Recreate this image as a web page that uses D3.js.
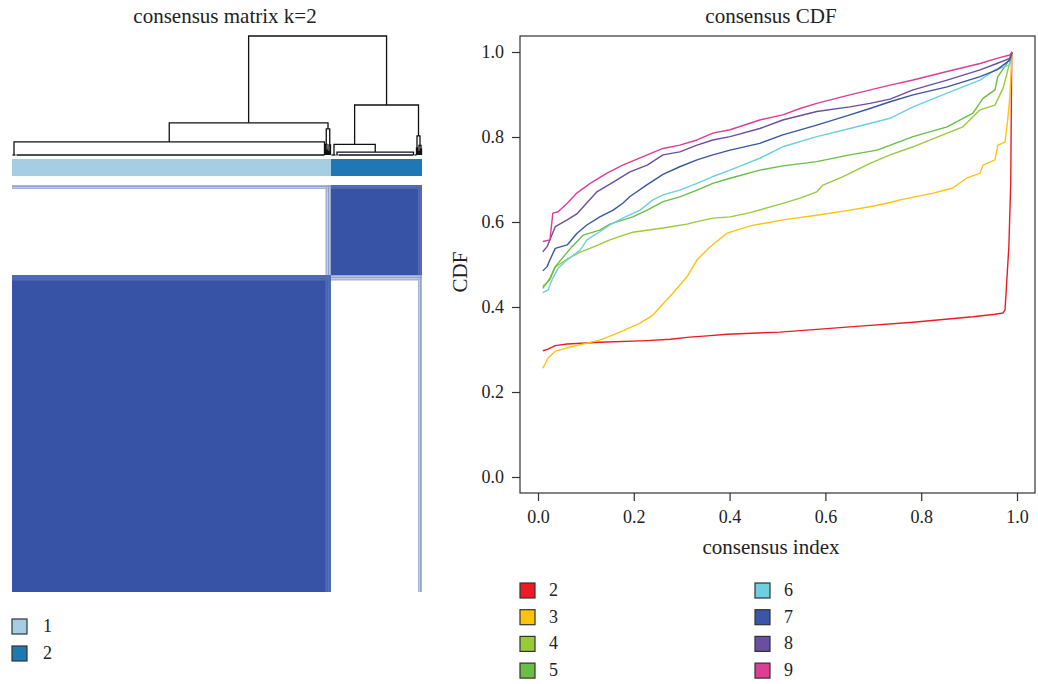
<!DOCTYPE html>
<html>
<head>
<meta charset="utf-8">
<title>consensus matrix / CDF</title>
<script src="https://cdn.jsdelivr.net/npm/d3@7"></script>
<style>
  body { margin: 0; background: #fff; }
  text { font-family: "Liberation Serif", "Times New Roman", serif; fill: #222; }
</style>
</head>
<body>
<script>
// ---- data ----
var nSamples = 410;
var clusterNames = ["1", "2"];
var clusterSizes = [319, 91];
var clusterColors = ["#a6cee3", "#1f78b4"];

// unstable samples at the end of each cluster: co-clustering with the other cluster
var edge1Start = 313, edge1Cross = [0.25, 0.45, 0.30, 0.55, 0.35, 0.50];
var edge2Start = 406, edge2Cross = [0.45, 0.30, 0.55, 0.40];

// dendrogram: leaf groups [first, last, anchor] in sample order, merges [left, right, height]
var leaves = [[0, 3, 1.5], [4, 312, 312], [313, 313, 313], [314, 314, 314], [315, 315, 315],
              [316, 316, 316], [317, 317, 317], [318, 318, 318],
              [319, 323, 321.5], [324, 325, 324.5], [326, 401, 401], [402, 404, 404], [405, 405, 405],
              [406, 406, 406], [407, 407, 407], [408, 408, 408], [409, 409, 409]];
var merges = [["L0", "L1", 0.11],            // M0
              ["L3", "L4", 0.04],            // M1
              ["L2", "M1", 0.09],            // M2
              ["L5", "L6", 0.03],            // M3
              ["M3", "L7", 0.085],           // M4
              ["M2", "M4", 0.22],            // M5
              ["M0", "M5", 0.27],            // M6  cluster 1
              ["L9", "L10", 0.025],          // M7
              ["L8", "M7", 0.09],            // M8
              ["L11", "L12", 0.06],          // M9
              ["L13", "L14", 0.03],          // M10
              ["L15", "L16", 0.05],          // M11
              ["M10", "M11", 0.08],          // M12
              ["M9", "M12", 0.16],           // M13
              ["M8", "M13", 0.42],           // M14 cluster 2
              ["M6", "M14", 1.0]];           // M15 root

// CDF curves, [consensus index, CDF]
var kValues = [2, 3, 4, 5, 6, 7, 8, 9];
var kColors = ["#ed1c24", "#ffc20e", "#99ca3c", "#6abd45", "#6dcfe0", "#3a56a6", "#6a4fa0", "#da3f93"];
var cdf2 = [[0.010,0.297],[0.021,0.301],[0.036,0.309],[0.061,0.313],[0.129,0.317],[0.228,0.321],[0.276,0.324],
  [0.317,0.329],[0.353,0.332],[0.395,0.336],[0.505,0.341],[0.589,0.348],[0.672,0.355],[0.783,0.364],[0.908,0.377],
  [0.954,0.383],[0.971,0.386],[0.975,0.393],[0.983,0.542],[0.987,0.695],[0.989,1.0]];
var cdf3 = [[0.010,0.256],[0.021,0.280],[0.036,0.296],[0.061,0.304],[0.129,0.322],[0.171,0.341],[0.213,0.362],
  [0.240,0.381],[0.255,0.400],[0.282,0.433],[0.311,0.471],[0.332,0.511],[0.359,0.541],[0.395,0.574],[0.443,0.591],
  [0.511,0.605],[0.582,0.616],[0.651,0.628],[0.693,0.636],[0.735,0.646],[0.756,0.652],[0.825,0.668],[0.866,0.680],
  [0.896,0.704],[0.923,0.715],[0.929,0.734],[0.954,0.746],[0.960,0.781],[0.975,0.788],[0.981,0.845],[0.985,0.894],[0.990,1.0]];
var cdf4 = [[0.010,0.449],[0.025,0.464],[0.036,0.494],[0.061,0.513],[0.088,0.529],[0.115,0.541],[0.150,0.558],
  [0.198,0.576],[0.261,0.586],[0.311,0.595],[0.332,0.601],[0.365,0.609],[0.401,0.612],[0.443,0.622],[0.511,0.644],
  [0.547,0.656],[0.582,0.671],[0.595,0.687],[0.637,0.707],[0.672,0.726],[0.693,0.738],[0.735,0.758],[0.783,0.777],
  [0.854,0.809],[0.887,0.824],[0.923,0.864],[0.954,0.875],[0.971,0.915],[0.981,0.958],[0.990,1.0]];
var cdf5 = [[0.010,0.444],[0.025,0.468],[0.036,0.495],[0.071,0.542],[0.094,0.569],[0.129,0.581],[0.150,0.595],
  [0.198,0.612],[0.228,0.628],[0.261,0.648],[0.296,0.659],[0.332,0.675],[0.365,0.691],[0.401,0.703],[0.463,0.722],
  [0.511,0.732],[0.582,0.742],[0.651,0.758],[0.708,0.769],[0.783,0.801],[0.854,0.824],[0.908,0.856],[0.929,0.891],
  [0.954,0.911],[0.960,0.942],[0.979,0.973],[0.990,1.0]];
var cdf6 = [[0.010,0.434],[0.021,0.440],[0.031,0.468],[0.042,0.491],[0.061,0.511],[0.088,0.534],[0.102,0.558],
  [0.129,0.577],[0.150,0.593],[0.177,0.609],[0.213,0.628],[0.240,0.652],[0.261,0.664],[0.296,0.675],[0.332,0.691],
  [0.365,0.707],[0.401,0.722],[0.463,0.750],[0.511,0.777],[0.582,0.801],[0.651,0.820],[0.735,0.844],[0.783,0.871],
  [0.854,0.903],[0.923,0.934],[0.954,0.958],[0.985,0.969],[0.990,1.0]];
var cdf7 = [[0.010,0.485],[0.019,0.495],[0.025,0.511],[0.036,0.538],[0.061,0.546],[0.081,0.573],[0.102,0.593],
  [0.129,0.612],[0.157,0.628],[0.177,0.644],[0.192,0.660],[0.228,0.688],[0.261,0.712],[0.296,0.730],[0.332,0.746],
  [0.365,0.758],[0.401,0.769],[0.463,0.785],[0.511,0.805],[0.582,0.828],[0.651,0.852],[0.693,0.867],[0.735,0.883],
  [0.783,0.899],[0.854,0.918],[0.923,0.942],[0.958,0.958],[0.985,0.981],[0.990,1.0]];
var cdf8 = [[0.010,0.530],[0.019,0.542],[0.036,0.589],[0.061,0.605],[0.081,0.619],[0.098,0.640],[0.123,0.671],
  [0.157,0.694],[0.192,0.718],[0.228,0.734],[0.261,0.758],[0.296,0.765],[0.332,0.781],[0.365,0.793],[0.401,0.801],
  [0.463,0.820],[0.511,0.840],[0.582,0.860],[0.651,0.871],[0.693,0.879],[0.735,0.889],[0.783,0.911],[0.854,0.934],
  [0.923,0.958],[0.958,0.973],[0.985,0.985],[0.990,1.0]];
var cdf9 = [[0.010,0.554],[0.025,0.558],[0.031,0.621],[0.042,0.624],[0.061,0.644],[0.081,0.668],[0.109,0.691],
  [0.144,0.715],[0.177,0.734],[0.228,0.758],[0.261,0.773],[0.296,0.781],[0.332,0.793],[0.365,0.809],[0.401,0.817],
  [0.463,0.840],[0.511,0.852],[0.547,0.867],[0.582,0.879],[0.651,0.899],[0.735,0.922],[0.783,0.934],[0.854,0.954],
  [0.923,0.973],[0.958,0.985],[0.985,0.993],[0.990,1.0]];
var cdfSeries = [cdf2, cdf3, cdf4, cdf5, cdf6, cdf7, cdf8, cdf9];
var tickValues = [0, 0.2, 0.4, 0.6, 0.8, 1.0];

// ---- drawing ----
var width = 1038, height = 684;
var svg = d3.select("body").append("svg")
    .attr("width", width).attr("height", height);

// ===== left panel: consensus matrix =====
var xs = d3.scaleLinear().domain([0, nSamples]).range([12, 422]);
var ys = d3.scaleLinear().domain([0, nSamples]).range([592, 185]); // row 0 at the bottom
var hs = d3.scaleLinear().domain([0, 1]).range([155, 36]);

svg.append("text").attr("x", 225).attr("y", 23).attr("text-anchor", "middle")
    .style("font-size", "21px").text("consensus matrix k=" + clusterSizes.length);

// segments of samples sharing the same consensus pattern
var c1End = clusterSizes[0];
var segs = [{start: 0, end: edge1Start, cl: 0, cross: 0}];
edge1Cross.forEach(function (v, i) { segs.push({start: edge1Start + i, end: edge1Start + i + 1, cl: 0, cross: v}); });
segs.push({start: c1End, end: edge2Start, cl: 1, cross: 0});
edge2Cross.forEach(function (v, i) { segs.push({start: edge2Start + i, end: edge2Start + i + 1, cl: 1, cross: v}); });

var consColor = d3.scaleLinear().domain([0, 1]).range(["#ffffff", "#3653a5"]).interpolate(d3.interpolateRgb);
var cells = [];
segs.forEach(function (r) {
  segs.forEach(function (c) {
    var m = Math.max(r.cross, c.cross);
    var v = (r.cl === c.cl) ? 1 - 0.3 * m : m;
    cells.push({r: r, c: c, v: v});
  });
});
svg.append("g").selectAll("rect").data(cells).enter().append("rect")
    .attr("x", function (d) { return xs(d.c.start); })
    .attr("width", function (d) { return xs(d.c.end) - xs(d.c.start); })
    .attr("y", function (d) { return ys(d.r.end); })
    .attr("height", function (d) { return ys(d.r.start) - ys(d.r.end); })
    .attr("fill", function (d) { return consColor(d.v); })
    .attr("shape-rendering", "crispEdges");

// cluster annotation bar
var starts = [0, clusterSizes[0]];
svg.append("g").selectAll("rect").data(clusterSizes).enter().append("rect")
    .attr("x", function (d, i) { return xs(starts[i]); })
    .attr("width", function (d) { return xs(d) - xs(0); })
    .attr("y", 159).attr("height", 17)
    .attr("fill", function (d, i) { return clusterColors[i]; })
    .attr("shape-rendering", "crispEdges");

// dendrogram
var nodes = {};
leaves.forEach(function (l, i) { nodes["L" + i] = {x: l[2] + 0.5, h: 0}; });
merges.forEach(function (m, i) {
  var a = nodes[m[0]], b = nodes[m[1]];
  nodes["M" + i] = {x: (a.x + b.x) / 2, h: m[2], a: a, b: b};
});
var dend = svg.append("g").attr("fill", "none").attr("stroke", "#111").attr("stroke-width", 1.3);
leaves.forEach(function (l) {
  if (l[1] > l[0]) {
    dend.append("line").attr("x1", xs(l[0] + 0.5)).attr("x2", xs(l[1] + 0.5))
        .attr("y1", hs(0)).attr("y2", hs(0));
  }
});
merges.forEach(function (m, i) {
  var n = nodes["M" + i];
  dend.append("path").attr("d",
      "M" + xs(n.a.x) + "," + hs(n.a.h) + "V" + hs(n.h) + "H" + xs(n.b.x) + "V" + hs(n.b.h));
});

// left legend
var lleg = svg.append("g").selectAll("g").data(clusterNames).enter().append("g")
    .attr("transform", function (d, i) { return "translate(12," + (619 + i * 27) + ")"; });
lleg.append("rect").attr("width", 15).attr("height", 15)
    .attr("fill", function (d, i) { return clusterColors[i]; })
    .attr("stroke", "#333").attr("stroke-width", 1.2);
lleg.append("text").attr("x", 31).attr("y", 13).style("font-size", "18px").text(function (d) { return d; });

// ===== right panel: consensus CDF =====
var xc = d3.scaleLinear().domain([0, 1]).range([538, 1017]);
var yc = d3.scaleLinear().domain([0, 1]).range([477, 52]);
var box = {x0: 520, x1: 1035, y0: 36, y1: 493};

svg.append("text").attr("x", 771).attr("y", 23).attr("text-anchor", "middle")
    .style("font-size", "21px").text("consensus CDF");

var line = d3.line().x(function (d) { return xc(d[0]); }).y(function (d) { return yc(d[1]); });
svg.append("g").selectAll("path").data(cdfSeries).enter().append("path")
    .attr("d", line).attr("fill", "none")
    .attr("stroke", function (d, i) { return kColors[i]; })
    .attr("stroke-width", 1.4)
    .attr("stroke-linejoin", "round");

svg.append("rect").attr("x", box.x0).attr("y", box.y0)
    .attr("width", box.x1 - box.x0).attr("height", box.y1 - box.y0)
    .attr("fill", "none").attr("stroke", "#333").attr("stroke-width", 1.2);

var fmt = d3.format(".1f");
var yAxis = svg.append("g").attr("transform", "translate(" + box.x0 + ",0)")
    .call(d3.axisLeft(yc).tickValues(tickValues).tickFormat(fmt).tickSize(8).tickPadding(8));
var xAxis = svg.append("g").attr("transform", "translate(0," + box.y1 + ")")
    .call(d3.axisBottom(xc).tickValues(tickValues).tickFormat(fmt).tickSize(8).tickPadding(9));
[yAxis, xAxis].forEach(function (ax) {
  ax.select(".domain").remove();
  ax.selectAll("line").attr("stroke", "#333").attr("stroke-width", 1.2);
  ax.selectAll("text").style("font-size", "18px").style("font-family", "Liberation Serif, serif").attr("fill", "#222");
});

svg.append("text").attr("x", 771).attr("y", 554).attr("text-anchor", "middle")
    .style("font-size", "21px").text("consensus index");
svg.append("text").attr("transform", "translate(467,272) rotate(-90)").attr("text-anchor", "middle")
    .style("font-size", "21px").text("CDF");

// right legend, two columns of four
var rleg = svg.append("g").selectAll("g").data(kValues).enter().append("g")
    .attr("transform", function (d, i) {
      return "translate(" + (i < 4 ? 520 : 755) + "," + (583 + (i % 4) * 26.7) + ")";
    });
rleg.append("rect").attr("width", 15).attr("height", 15)
    .attr("fill", function (d, i) { return kColors[i]; })
    .attr("stroke", "#333").attr("stroke-width", 1.2);
rleg.append("text").attr("x", 29).attr("y", 13).style("font-size", "18px").text(function (d) { return d; });
</script>
</body>
</html>
